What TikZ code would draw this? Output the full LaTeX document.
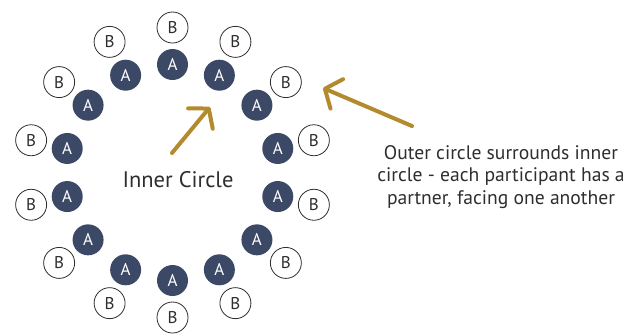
\documentclass[tikz,border=0pt]{standalone}
\usepackage{fontspec}
\setmainfont{PT Sans}
\usetikzlibrary{arrows.meta}
\definecolor{navy}{HTML}{3B4966}
\definecolor{gold}{HTML}{B38B2E}
\definecolor{ink}{HTML}{2E2E2E}
\begin{document}
\begin{tikzpicture}[x=1pt,y=-1pt,
  anode/.style={circle, fill=navy, minimum size=31pt, inner sep=0pt,
    text=white, font=\fontsize{17}{17}\selectfont},
  bnode/.style={circle, draw=ink, line width=0.8pt, fill=white,
    minimum size=31pt, inner sep=0pt, text=ink,
    font=\fontsize{17}{17}\selectfont},
  pointer/.style={draw=gold, line width=4pt, line cap=round,
    -{Straight Barb[length=13pt,width=32pt,round]}},
  caption/.style={text=ink, align=center}]
\useasboundingbox (0,0) rectangle (639,333);
% ring of partners: A inside, B outside, same angles
\begin{scope}[shift={(172.5,172.5)}]
  \foreach \i in {0,...,13}{
    \pgfmathsetmacro{\ang}{90+\i*360/14}
    \node[bnode] (b\i) at (\ang:145) {B};
    \node[anode] (a\i) at (\ang:108) {A};
  }
\end{scope}
\node[caption, font=\fontsize{22.5}{22.5}\selectfont] (inner) at (178,180) {Inner Circle};
\node[caption, font=\fontsize{19.6}{22.5}\selectfont] (outer) at (501,177)
  {Outer circle surrounds inner\\circle - each participant has a\\partner, facing one another};
\coordinate (innertail) at (172,153);
\coordinate (innertip) at (210,107);
\coordinate (outertail) at (412,126);
\coordinate (outertip) at (323,88);
\draw[pointer] (innertail) -- (innertip);
\draw[pointer] (outertail) -- (outertip);
\end{tikzpicture}
\end{document}
